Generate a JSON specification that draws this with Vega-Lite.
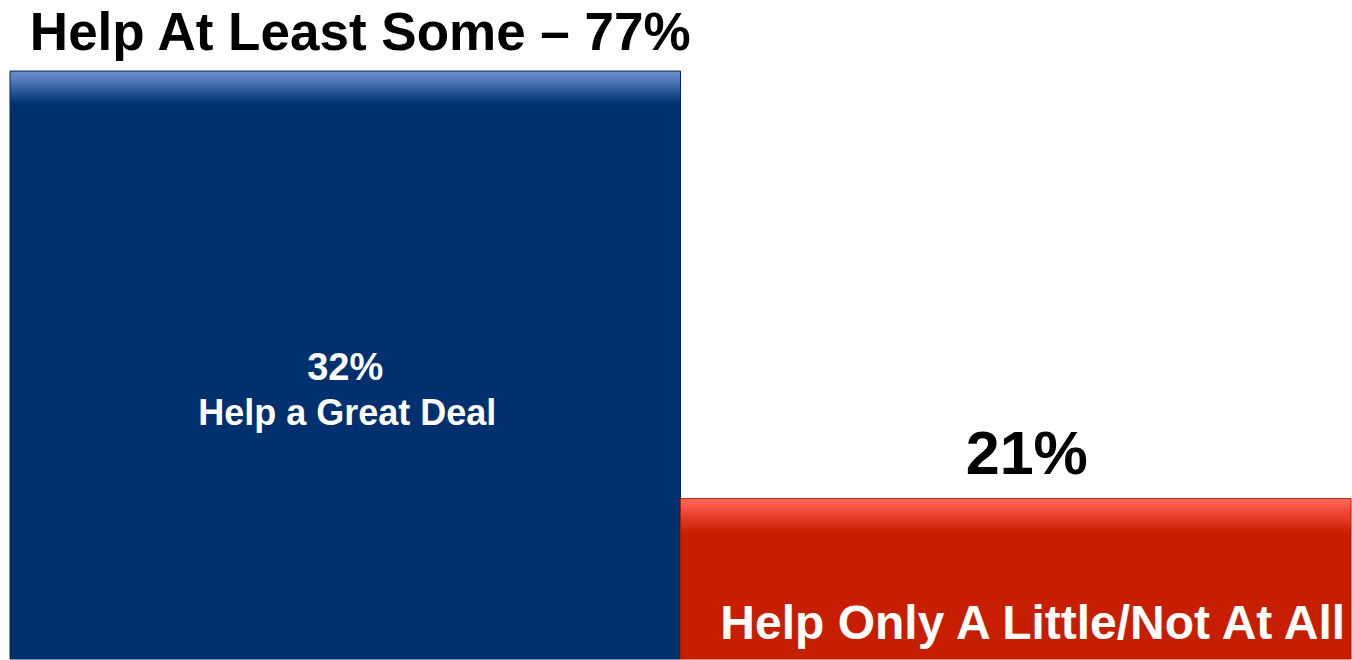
{
  "$schema": "https://vega.github.io/schema/vega-lite/v6.json",
  "width": 1352,
  "height": 660,
  "autosize": {"type": "fit", "contains": "padding"},
  "padding": {"left": 9, "top": 0, "right": 0, "bottom": 0},
  "background": "white",
  "config": {"view": {"stroke": null}, "text": {"font": "Liberation Sans", "fontWeight": "bold"}},
  "data": {"values": [
    {"group": "Help At Least Some", "value": 77, "top": "Help At Least Some – 77%", "pct": "32%", "label": "Help a Great Deal"},
    {"group": "Help Only A Little/Not At All", "value": 21, "top": "21%", "pct": "", "label": "Help Only A Little/Not At All"}
  ]},
  "encoding": {
    "x": {"field": "group", "type": "nominal", "sort": null, "axis": null, "scale": {"paddingInner": 0, "paddingOuter": 0}},
    "y": {"field": "value", "type": "quantitative", "axis": null, "scale": {"domain": [0, 86.3], "nice": false}}
  },
  "layer": [
    {
      "transform": [{"filter": "datum.group === 'Help At Least Some'"}],
      "mark": {"type": "bar", "color": {"gradient": "linear", "x1": 0, "y1": 0, "x2": 0, "y2": 1, "stops": [
        {"offset": 0, "color": "#6a8fcd"},
        {"offset": 0.02, "color": "#4a72b3"},
        {"offset": 0.05, "color": "#0a3a7a"},
        {"offset": 0.06, "color": "#00306e"},
        {"offset": 1, "color": "#00306e"}
      ]}, "stroke": "#002658", "strokeWidth": 1}
    },
    {
      "transform": [{"filter": "datum.group !== 'Help At Least Some'"}],
      "mark": {"type": "bar", "color": {"gradient": "linear", "x1": 0, "y1": 0, "x2": 0, "y2": 1, "stops": [
        {"offset": 0, "color": "#ff6a5a"},
        {"offset": 0.08, "color": "#f04a38"},
        {"offset": 0.18, "color": "#d02a10"},
        {"offset": 0.22, "color": "#c81e00"},
        {"offset": 1, "color": "#c81e00"}
      ]}, "stroke": "#b01a00", "strokeWidth": 1}
    },
    {
      "transform": [{"filter": "datum.group === 'Help At Least Some'"}],
      "mark": {"type": "text", "fontSize": 53, "color": "black", "baseline": "alphabetic", "dy": -21, "dx": 15},
      "encoding": {"text": {"field": "top"}}
    },
    {
      "transform": [{"filter": "datum.group !== 'Help At Least Some'"}],
      "mark": {"type": "text", "fontSize": 61, "color": "black", "baseline": "alphabetic", "dy": -25, "dx": 11},
      "encoding": {"text": {"field": "top"}}
    },
    {
      "transform": [{"filter": "datum.group === 'Help At Least Some'"}],
      "mark": {"type": "text", "fontSize": 38, "color": "white", "baseline": "alphabetic", "dy": 309, "dx": 0},
      "encoding": {"text": {"field": "pct"}}
    },
    {
      "transform": [{"filter": "datum.group === 'Help At Least Some'"}],
      "mark": {"type": "text", "fontSize": 36, "color": "white", "baseline": "alphabetic", "dy": 354, "dx": 2},
      "encoding": {"text": {"field": "label"}}
    },
    {
      "transform": [{"filter": "datum.group !== 'Help At Least Some'"}],
      "mark": {"type": "text", "fontSize": 48, "color": "white", "baseline": "alphabetic", "dy": 140, "dx": 17},
      "encoding": {"text": {"field": "label"}}
    }
  ]
}
